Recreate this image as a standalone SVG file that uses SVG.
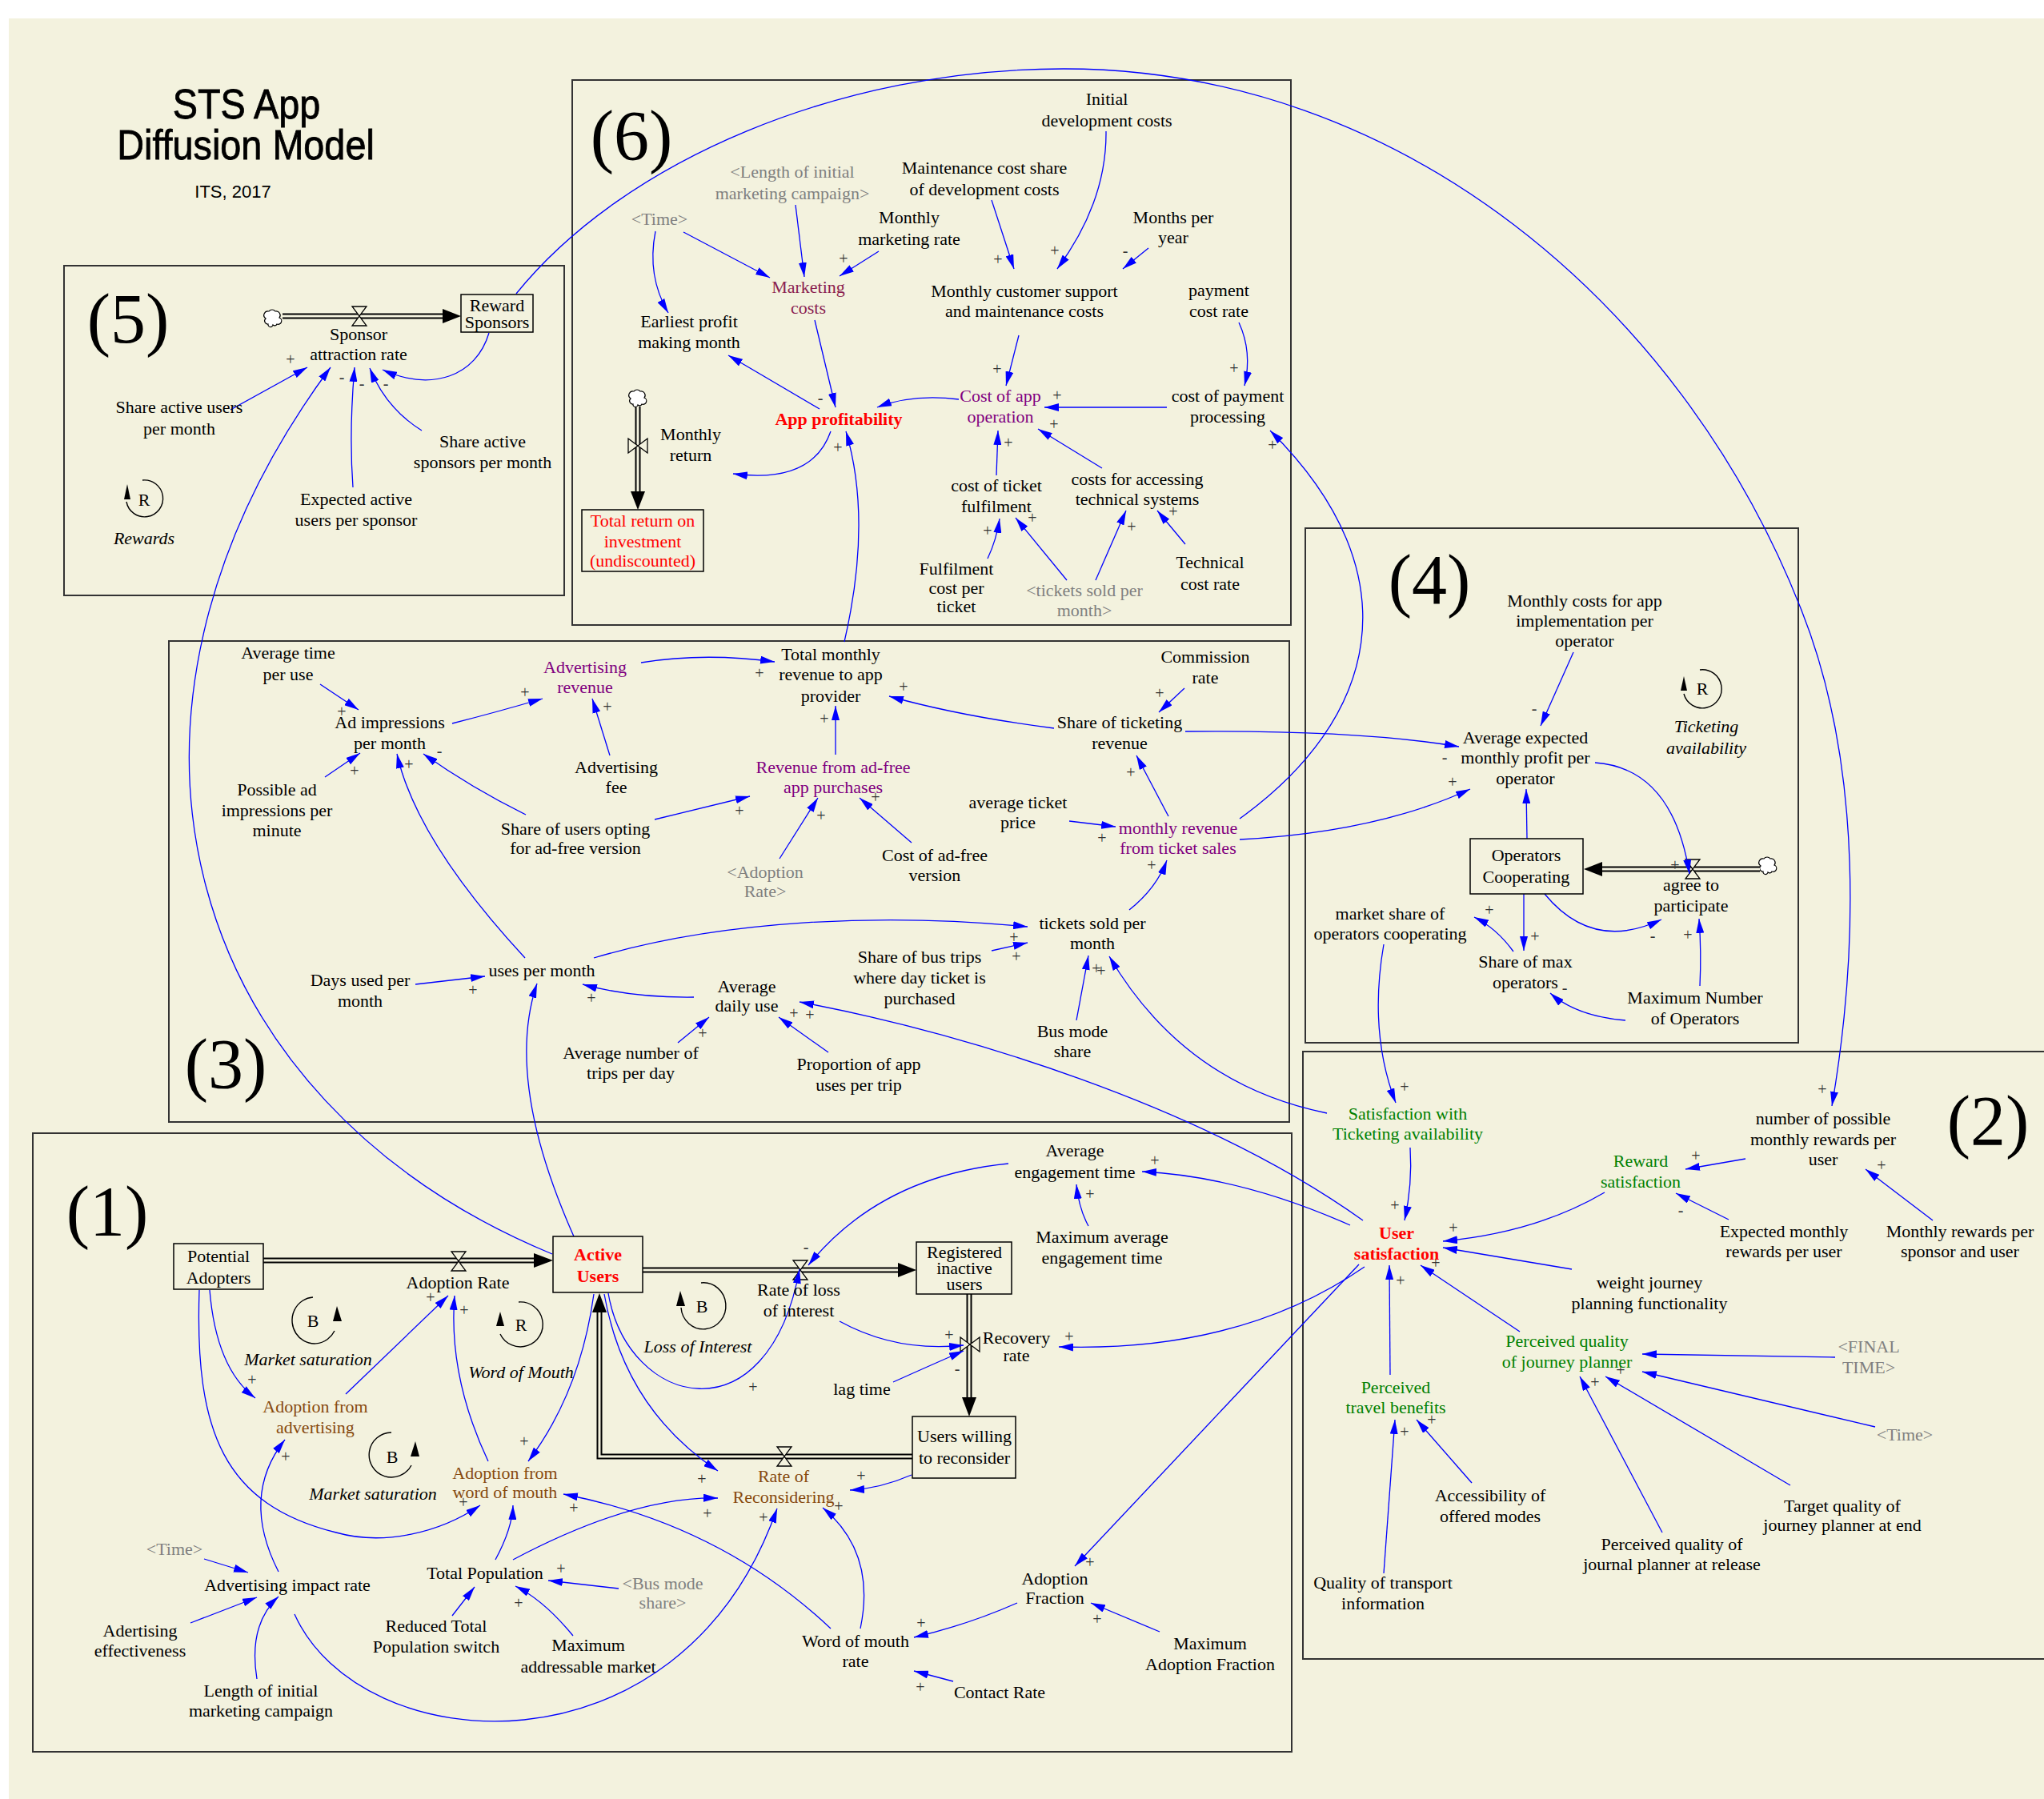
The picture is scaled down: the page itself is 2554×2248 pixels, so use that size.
<svg xmlns="http://www.w3.org/2000/svg" width="2554" height="2248" viewBox="0 0 2554 2248">
<defs>
<style>
.t{font-family:"Liberation Serif","Times New Roman",serif;font-size:22px;fill:#000;text-anchor:middle}
.gy{fill:#808080}
.rd{fill:#f00}
.b{font-weight:bold}
.pu{fill:#800080}
.mr{fill:#8b1e50}
.br{fill:#874a0f}
.gn{fill:#008000}
.it{font-style:italic}
.ti{font-family:"Liberation Sans",Arial,sans-serif;fill:#000;text-anchor:middle}
.n{font-family:"Liberation Serif","Times New Roman",serif;font-size:88px;fill:#000;text-anchor:middle}
.s{font-family:"Liberation Serif","Times New Roman",serif;font-size:20px;fill:#333;text-anchor:middle}
.lk{fill:none;stroke:#00f;stroke-width:1.3;marker-end:url(#ah)}
.fr{fill:none;stroke:#333;stroke-width:2}
.sb{fill:none;stroke:#000;stroke-width:1.5}
.po{fill:none;stroke:#000;stroke-width:7}
.pi{fill:none;stroke:#f3f2de;stroke-width:3}
.fa{fill:#000}
.lp{fill:none;stroke:#000;stroke-width:1.4}
.vl{fill:#f3f2de;stroke:#000;stroke-width:1.3}
.cl{fill:#fff;stroke:#000;stroke-width:1.2}
</style>
<marker id="ah" viewBox="0 0 18 10" refX="18" refY="5" markerWidth="18" markerHeight="10" markerUnits="userSpaceOnUse" orient="auto"><path d="M0,0L18,5L0,10z" fill="#00f"/></marker>
<path id="vh" class="vl" d="M-9,-12H9L-9,12H9Z"/>
<path id="vv" class="vl" d="M-12,-9V9L12,-9V9Z"/>
<path id="cloud" class="cl" d="M-7,8a4,4 0 0 1 -3,-7a5,5 0 0 1 4,-9a5,5 0 0 1 8,0a5,5 0 0 1 5,8a4,4 0 0 1 -3,8a3,3 0 0 1 -5,1a3,3 0 0 1 -6,-1z"/>
</defs>
<rect x="0" y="0" width="2554" height="2248" fill="#fff"/>
<rect x="11" y="23" width="2543" height="2225" fill="#f3f2de"/>

<g id="title">
<text class="ti" transform="translate(308,148) scale(0.9,1)" font-size="52" stroke="#000" stroke-width="0.8">STS App</text>
<text class="ti" transform="translate(307,199) scale(0.9,1)" font-size="52" stroke="#000" stroke-width="0.8">Diffusion Model</text>
<text class="ti" x="291" y="247" font-size="22">ITS, 2017</text>
</g>

<g id="frames">
<rect class="fr" x="715" y="100" width="898" height="681"/>
<rect class="fr" x="80" y="332" width="625" height="412"/>
<rect class="fr" x="211" y="801" width="1400" height="601"/>
<rect class="fr" x="41" y="1416" width="1573" height="773"/>
<rect class="fr" x="1631" y="660" width="616" height="643"/>
<rect class="fr" x="1628" y="1314" width="1000" height="759"/>
<text class="n" x="789" y="199">(6)</text>
<text class="n" x="160" y="428">(5)</text>
<text class="n" x="1786" y="754">(4)</text>
<text class="n" x="282" y="1359">(3)</text>
<text class="n" x="134" y="1543">(1)</text>
<text class="n" x="2484" y="1430">(2)</text>
</g>

<g id="flows">
<use href="#cloud" x="342" y="397"/>
<path class="po" d="M353,395H553"/><path class="pi" d="M353,395H553"/>
<polygon class="fa" points="553,386 576,395 553,404"/>
<use href="#vh" x="449" y="395"/>

<use href="#cloud" x="798" y="497"/>
<path class="po" d="M797,508V614"/><path class="pi" d="M797,508V614"/>
<polygon class="fa" points="788,614 797,637 806,614"/>
<use href="#vv" x="797" y="557"/>

<use href="#cloud" x="2210" y="1081"/>
<path class="po" d="M2199,1086H2002"/><path class="pi" d="M2199,1086H2002"/>
<polygon class="fa" points="2002,1077 1979,1086 2002,1095"/>
<use href="#vh" x="2115" y="1086"/>

<path class="po" d="M329,1575H667"/><path class="pi" d="M329,1575H667"/>
<polygon class="fa" points="667,1566 691,1575 667,1584"/>
<use href="#vh" x="573" y="1576"/>

<path class="po" d="M803,1587H1122"/><path class="pi" d="M803,1587H1122"/>
<polygon class="fa" points="1122,1578 1145,1587 1122,1596"/>
<use href="#vh" x="1000" y="1587"/>

<path class="po" d="M1211,1617V1746"/><path class="pi" d="M1211,1617V1746"/>
<polygon class="fa" points="1202,1746 1211,1770 1220,1746"/>
<use href="#vv" x="1212" y="1680"/>

<path class="po" d="M1140,1820H749V1640"/><path class="pi" d="M1140,1820H749V1640"/>
<polygon class="fa" points="740,1640 749,1616 758,1640"/>
<use href="#vh" x="980" y="1820"/>
</g>

<g id="loops">
<path class="lp" d="M178,600A23,23 0 1 1 158,627"/><polygon class="fa" points="159,605 155,624 163,624"/>
<text class="t" x="180" y="632">R</text>
<text class="t it" x="180" y="680">Rewards</text>
<path class="lp" d="M2124,837A24,24 0 1 1 2104,867"/><polygon class="fa" points="2104,845 2100,863 2108,863"/>
<text class="t" x="2127" y="868">R</text>
<text class="t it" x="2132" y="915">Ticketing</text>
<text class="t it" x="2132" y="942">availability</text>
<path class="lp" d="M391,1621A28,29 0 1 0 418,1663"/><polygon class="fa" points="421,1632 416,1651 427,1651"/>
<text class="t" x="391" y="1658">B</text>
<text class="t it" x="385" y="1706">Market saturation</text>
<path class="lp" d="M648,1627A28,28 0 1 1 625,1667"/><polygon class="fa" points="625,1639 620,1657 630,1657"/>
<text class="t" x="651" y="1663">R</text>
<text class="t it" x="651" y="1722">Word of Mouth</text>
<path class="lp" d="M876,1603A28,29 0 1 1 851,1634"/><polygon class="fa" points="850,1613 845,1632 856,1632"/>
<text class="t" x="877" y="1640">B</text>
<text class="t it" x="872" y="1690">Loss of Interest</text>
<path class="lp" d="M489,1790A28,28 0 1 0 514,1831"/><polygon class="fa" points="519,1801 513,1820 524,1820"/>
<text class="t" x="490" y="1828">B</text>
<text class="t it" x="466" y="1874">Market saturation</text>
</g>

<g id="connectors">
<path class="lk" d="M288,512L384,459"/>
<path class="lk" d="M441,609Q436,540 443,459"/>
<path class="lk" d="M690,1567C230,1377 88,899 413,459"/>
<path class="lk" d="M527,538Q482,510 462,460"/>
<path class="lk" d="M611,416C595,470 540,490 478,462"/>
<path class="lk" d="M645,367C780,200 1050,86 1329,86C1750,86 2100,380 2250,760C2330,960 2320,1200 2289,1382"/>

<path class="lk" d="M854,290L962,347"/>
<path class="lk" d="M819,289Q808,345 835,391"/>
<path class="lk" d="M994,256L1005,346"/>
<path class="lk" d="M1098,314L1049,345"/>
<path class="lk" d="M1239,250L1267,336"/>
<path class="lk" d="M1382,164Q1383,252 1321,336"/>
<path class="lk" d="M1435,310L1403,336"/>
<path class="lk" d="M1018,400L1044,509"/>
<path class="lk" d="M1024,511L910,444"/>
<path class="lk" d="M1273,419L1257,482"/>
<path class="lk" d="M1548,403Q1565,440 1555,482"/>
<path class="lk" d="M1198,499Q1140,492 1096,509"/>
<path class="lk" d="M1458,509L1305,509"/>
<path class="lk" d="M1245,594L1247,538"/>
<path class="lk" d="M1377,585L1297,536"/>
<path class="lk" d="M1234,698Q1245,675 1249,648"/>
<path class="lk" d="M1333,725L1269,647"/>
<path class="lk" d="M1369,725L1407,638"/>
<path class="lk" d="M1481,680L1446,638"/>
<path class="lk" d="M1038,539Q1015,605 916,592"/>
<path class="lk" d="M1055,802Q1090,650 1057,539"/>
<path class="lk" d="M1549,1023C1720,900 1770,720 1587,538"/>

<path class="lk" d="M400,855L448,887"/>
<path class="lk" d="M406,971L450,941"/>
<path class="lk" d="M565,904Q620,890 678,873"/>
<path class="lk" d="M762,944L740,873"/>
<path class="lk" d="M657,1018Q590,985 529,942"/>
<path class="lk" d="M818,1024L937,995"/>
<path class="lk" d="M656,1197Q520,1050 496,942"/>
<path class="lk" d="M801,828Q880,815 968,827"/>
<path class="lk" d="M1044,943L1044,882"/>
<path class="lk" d="M1317,910Q1200,895 1111,870"/>
<path class="lk" d="M1480,860L1448,890"/>
<path class="lk" d="M1460,1020L1420,944"/>
<path class="lk" d="M974,1073L1022,997"/>
<path class="lk" d="M1139,1053L1074,997"/>
<path class="lk" d="M1336,1026L1394,1033"/>
<path class="lk" d="M1481,914Q1700,912 1823,933"/>
<path class="lk" d="M1549,1049Q1720,1040 1837,986"/>
<path class="lk" d="M1411,1137Q1445,1110 1458,1075"/>
<path class="lk" d="M742,1197C900,1150 1100,1140 1284,1158"/>
<path class="lk" d="M1239,1188L1284,1178"/>
<path class="lk" d="M1345,1275L1360,1194"/>
<path class="lk" d="M1658,1391Q1480,1355 1386,1195"/>
<path class="lk" d="M867,1246Q790,1247 728,1230"/>
<path class="lk" d="M519,1230L606,1220"/>
<path class="lk" d="M717,1545Q630,1350 671,1229"/>
<path class="lk" d="M847,1303L886,1271"/>
<path class="lk" d="M1035,1315L973,1271"/>
<path class="lk" d="M1703,1525C1500,1380 1200,1290 999,1252"/>

<path class="lk" d="M1966,815L1925,907"/>
<path class="lk" d="M1908,1048L1907,986"/>
<path class="lk" d="M1993,953Q2090,960 2111,1092"/>
<path class="lk" d="M1930,1117Q1990,1190 2076,1149"/>
<path class="lk" d="M2124,1232Q2126,1190 2123,1148"/>
<path class="lk" d="M1904,1117L1904,1188"/>
<path class="lk" d="M1891,1189Q1870,1160 1842,1146"/>
<path class="lk" d="M2031,1275Q1970,1270 1937,1241"/>
<path class="lk" d="M1729,1180Q1710,1290 1744,1378"/>

<path class="lk" d="M1762,1434Q1765,1480 1755,1525"/>
<path class="lk" d="M2181,1448L2106,1461"/>
<path class="lk" d="M2415,1525L2331,1461"/>
<path class="lk" d="M2160,1524L2094,1491"/>
<path class="lk" d="M2005,1490Q1920,1540 1803,1551"/>
<path class="lk" d="M1964,1586L1803,1559"/>
<path class="lk" d="M1899,1664L1775,1581"/>
<path class="lk" d="M1737,1718L1736,1581"/>
<path class="lk" d="M2293,1696L2052,1692"/>
<path class="lk" d="M2343,1783L2052,1714"/>
<path class="lk" d="M2237,1856L2006,1720"/>
<path class="lk" d="M2077,1915L1974,1720"/>
<path class="lk" d="M1839,1853L1770,1774"/>
<path class="lk" d="M1729,1966L1743,1774"/>
<path class="lk" d="M1687,1531Q1550,1470 1427,1464"/>
<path class="lk" d="M1705,1583Q1550,1690 1323,1683"/>
<path class="lk" d="M1698,1580L1343,1957"/>

<path class="lk" d="M262,1612Q270,1710 319,1747"/>
<path class="lk" d="M249,1612C243,1790 280,1880 420,1915C480,1932 550,1915 600,1881"/>
<path class="lk" d="M432,1742L560,1619"/>
<path class="lk" d="M610,1826Q560,1720 568,1619"/>
<path class="lk" d="M742,1617Q725,1740 660,1826"/>
<path class="lk" d="M348,1964Q300,1870 356,1799"/>
<path class="lk" d="M368,2017C450,2200 850,2230 971,1885"/>
<path class="lk" d="M255,1948L310,1965"/>
<path class="lk" d="M238,2028L321,1996"/>
<path class="lk" d="M321,2098Q310,2030 348,1995"/>
<path class="lk" d="M619,1949Q640,1910 641,1881"/>
<path class="lk" d="M641,1949Q790,1870 897,1872"/>
<path class="lk" d="M565,2019L593,1983"/>
<path class="lk" d="M716,2044Q680,2000 644,1982"/>
<path class="lk" d="M773,1985L685,1975"/>
<path class="lk" d="M1038,2035Q900,1905 704,1867"/>
<path class="lk" d="M1075,2035Q1095,1940 1028,1884"/>
<path class="lk" d="M1139,1843Q1100,1860 1062,1862"/>
<path class="lk" d="M755,1617Q780,1760 897,1838"/>
<path class="lk" d="M1271,2003Q1210,2030 1142,2046"/>
<path class="lk" d="M1449,2039L1363,2003"/>
<path class="lk" d="M1191,2101L1142,2088"/>
<path class="lk" d="M1260,1454Q1100,1470 1010,1581"/>
<path class="lk" d="M1360,1532Q1348,1510 1345,1480"/>
<path class="lk" d="M1049,1651Q1120,1690 1204,1681"/>
<path class="lk" d="M1116,1727Q1165,1705 1204,1688"/>
<path class="lk" d="M760,1616C785,1760 960,1800 999,1586"/>

<g id="polarity">
<text class="s" x="363" y="456">+</text><text class="s" x="427" y="478">-</text><text class="s" x="452" y="486">-</text><text class="s" x="482" y="486">-</text>
<text class="s" x="1054" y="330">+</text><text class="s" x="1247" y="331">+</text><text class="s" x="1318" y="320">+</text><text class="s" x="1406" y="320">-</text>
<text class="s" x="1025" y="504">-</text><text class="s" x="1246" y="468">+</text><text class="s" x="1542" y="467">+</text><text class="s" x="1321" y="501">+</text>
<text class="s" x="1260" y="560">+</text><text class="s" x="1317" y="537">+</text><text class="s" x="1234" y="670">+</text><text class="s" x="1290" y="654">+</text>
<text class="s" x="1414" y="665">+</text><text class="s" x="1466" y="646">+</text><text class="s" x="1047" y="566">+</text><text class="s" x="1590" y="563">+</text>
<text class="s" x="427" y="896">+</text><text class="s" x="443" y="970">+</text><text class="s" x="656" y="872">+</text><text class="s" x="759" y="890">+</text>
<text class="s" x="549" y="945">-</text><text class="s" x="924" y="1020">+</text><text class="s" x="511" y="962">+</text><text class="s" x="949" y="848">+</text>
<text class="s" x="1030" y="905">+</text><text class="s" x="1129" y="865">+</text><text class="s" x="1449" y="873">+</text><text class="s" x="1413" y="972">+</text>
<text class="s" x="1026" y="1026">+</text><text class="s" x="1094" y="1003">+</text><text class="s" x="1377" y="1054">+</text><text class="s" x="1805" y="953">-</text>
<text class="s" x="1815" y="984">+</text><text class="s" x="1439" y="1088">+</text><text class="s" x="1267" y="1178">+</text><text class="s" x="1270" y="1202">+</text>
<text class="s" x="1370" y="1217">+</text><text class="s" x="1376" y="1220">+</text><text class="s" x="739" y="1254">+</text><text class="s" x="591" y="1244">+</text>
<text class="s" x="878" y="1298">+</text><text class="s" x="992" y="1273">+</text><text class="s" x="1012" y="1275">+</text>
<text class="s" x="1917" y="892">-</text><text class="s" x="2093" y="1088">+</text><text class="s" x="2065" y="1176">-</text><text class="s" x="2109" y="1175">+</text>
<text class="s" x="1918" y="1177">+</text><text class="s" x="1861" y="1144">+</text><text class="s" x="1955" y="1241">-</text><text class="s" x="1755" y="1365">+</text>
<text class="s" x="1743" y="1513">+</text><text class="s" x="2119" y="1451">+</text><text class="s" x="2351" y="1463">+</text><text class="s" x="2100" y="1519">-</text>
<text class="s" x="1816" y="1541">+</text><text class="s" x="1794" y="1585">+</text><text class="s" x="1750" y="1607">+</text><text class="s" x="2025" y="1719">+</text>
<text class="s" x="1993" y="1734">+</text><text class="s" x="1789" y="1781">+</text><text class="s" x="1755" y="1796">+</text><text class="s" x="2277" y="1368">+</text>
<text class="s" x="1443" y="1457">+</text><text class="s" x="1336" y="1677">+</text><text class="s" x="1362" y="1959">+</text>
<text class="s" x="315" y="1731">+</text><text class="s" x="579" y="1884">+</text><text class="s" x="538" y="1628">+</text><text class="s" x="580" y="1644">+</text>
<text class="s" x="655" y="1808">+</text><text class="s" x="357" y="1827">+</text><text class="s" x="954" y="1903">+</text><text class="s" x="648" y="2010">+</text>
<text class="s" x="701" y="1967">+</text><text class="s" x="717" y="1891">+</text><text class="s" x="1048" y="1889">+</text><text class="s" x="1076" y="1851">+</text>
<text class="s" x="877" y="1855">+</text><text class="s" x="884" y="1898">+</text><text class="s" x="1151" y="2035">+</text><text class="s" x="1371" y="2030">+</text>
<text class="s" x="1150" y="2115">+</text><text class="s" x="1007" y="1565">-</text><text class="s" x="1362" y="1499">+</text><text class="s" x="1186" y="1675">+</text>
<text class="s" x="1196" y="1717">-</text><text class="s" x="941" y="1740">+</text>
</g>
</g>

<g id="n_sponsor_attraction_rate"><text class="t" x="448" y="425">Sponsor<tspan x="448" y="450">attraction rate</tspan></text></g>
<g id="n_reward_sponsors"><rect class="sb" x="576" y="368" width="90" height="47"/><text class="t" x="621" y="389">Reward<tspan x="621" y="410">Sponsors</tspan></text></g>
<g id="n_share_active_users"><text class="t" x="224" y="516">Share active users<tspan x="224" y="543">per month</tspan></text></g>
<g id="n_share_active_sponsors"><text class="t" x="603" y="559">Share active<tspan x="603" y="585">sponsors per month</tspan></text></g>
<g id="n_expected_active_users"><text class="t" x="445" y="631">Expected active<tspan x="445" y="657">users per sponsor</tspan></text></g>

<g id="n_time6"><text class="t gy" x="824" y="281">&lt;Time&gt;</text></g>
<g id="n_earliest_profit"><text class="t" x="861" y="409">Earliest profit<tspan x="861" y="435">making month</tspan></text></g>
<g id="n_length6"><text class="t gy" x="990" y="222">&lt;Length of initial<tspan x="990" y="249">marketing campaign&gt;</tspan></text></g>
<g id="n_monthly_marketing_rate"><text class="t" x="1136" y="279">Monthly<tspan x="1136" y="306">marketing rate</tspan></text></g>
<g id="n_marketing_costs"><text class="t mr" x="1010" y="366">Marketing<tspan x="1010" y="392">costs</tspan></text></g>
<g id="n_maintenance_share"><text class="t" x="1230" y="217">Maintenance cost share<tspan x="1230" y="244">of development costs</tspan></text></g>
<g id="n_initial_dev"><text class="t" x="1383" y="131">Initial<tspan x="1383" y="158">development costs</tspan></text></g>
<g id="n_months_per_year"><text class="t" x="1466" y="279">Months per<tspan x="1466" y="304">year</tspan></text></g>
<g id="n_monthly_customer_support"><text class="t" x="1280" y="371">Monthly customer support<tspan x="1280" y="396">and maintenance costs</tspan></text></g>
<g id="n_payment_cost_rate"><text class="t" x="1523" y="370">payment<tspan x="1523" y="396">cost rate</tspan></text></g>
<g id="n_cost_app_operation"><text class="t pu" x="1250" y="502">Cost of app<tspan x="1250" y="528">operation</tspan></text></g>
<g id="n_cost_payment_processing"><text class="t" x="1534" y="502">cost of payment<tspan x="1534" y="528">processing</tspan></text></g>
<g id="n_app_profitability"><text class="t rd b" x="1048" y="531">App profitability</text></g>
<g id="n_monthly_return"><text class="t" x="863" y="550">Monthly<tspan x="863" y="576">return</tspan></text></g>
<g id="n_total_return"><rect class="sb" x="727" y="637" width="152" height="77"/><text class="t rd" x="803" y="658">Total return on<tspan x="803" y="684">investment</tspan><tspan x="803" y="708">(undiscounted)</tspan></text></g>
<g id="n_cost_ticket_fulfilment"><text class="t" x="1245" y="614">cost of ticket<tspan x="1245" y="640">fulfilment</tspan></text></g>
<g id="n_costs_accessing"><text class="t" x="1421" y="606">costs for accessing<tspan x="1421" y="631">technical systems</tspan></text></g>
<g id="n_fulfilment_cost"><text class="t" x="1195" y="718">Fulfilment<tspan x="1195" y="742">cost per</tspan><tspan x="1195" y="765">ticket</tspan></text></g>
<g id="n_tickets_sold_shadow"><text class="t gy" x="1355" y="745">&lt;tickets sold per<tspan x="1355" y="770">month&gt;</tspan></text></g>
<g id="n_technical_cost_rate"><text class="t" x="1512" y="710">Technical<tspan x="1512" y="737">cost rate</tspan></text></g>

<g id="n_avg_time_per_use"><text class="t" x="360" y="823">Average time<tspan x="360" y="850">per use</tspan></text></g>
<g id="n_ad_impressions"><text class="t" x="487" y="910">Ad impressions<tspan x="487" y="936">per month</tspan></text></g>
<g id="n_advertising_revenue"><text class="t pu" x="731" y="841">Advertising<tspan x="731" y="866">revenue</tspan></text></g>
<g id="n_possible_ad"><text class="t" x="346" y="994">Possible ad<tspan x="346" y="1020">impressions per</tspan><tspan x="346" y="1045">minute</tspan></text></g>
<g id="n_advertising_fee"><text class="t" x="770" y="966">Advertising<tspan x="770" y="991">fee</tspan></text></g>
<g id="n_share_opting"><text class="t" x="719" y="1043">Share of users opting<tspan x="719" y="1067">for ad-free version</tspan></text></g>
<g id="n_total_monthly_revenue"><text class="t" x="1038" y="825">Total monthly<tspan x="1038" y="850">revenue to app</tspan><tspan x="1038" y="877">provider</tspan></text></g>
<g id="n_commission_rate"><text class="t" x="1506" y="828">Commission<tspan x="1506" y="854">rate</tspan></text></g>
<g id="n_share_ticketing"><text class="t" x="1399" y="910">Share of ticketing<tspan x="1399" y="936">revenue</tspan></text></g>
<g id="n_revenue_adfree"><text class="t pu" x="1041" y="966">Revenue from ad-free<tspan x="1041" y="991">app purchases</tspan></text></g>
<g id="n_adoption_rate_shadow"><text class="t gy" x="956" y="1097">&lt;Adoption<tspan x="956" y="1121">Rate&gt;</tspan></text></g>
<g id="n_cost_adfree"><text class="t" x="1168" y="1076">Cost of ad-free<tspan x="1168" y="1101">version</tspan></text></g>
<g id="n_avg_ticket_price"><text class="t" x="1272" y="1010">average ticket<tspan x="1272" y="1035">price</tspan></text></g>
<g id="n_monthly_revenue_ticket"><text class="t pu" x="1472" y="1042">monthly revenue<tspan x="1472" y="1067">from ticket sales</tspan></text></g>
<g id="n_tickets_sold"><text class="t" x="1365" y="1161">tickets sold per<tspan x="1365" y="1186">month</tspan></text></g>
<g id="n_share_bus_trips"><text class="t" x="1149" y="1203">Share of bus trips<tspan x="1149" y="1229">where day ticket is</tspan><tspan x="1149" y="1255">purchased</tspan></text></g>
<g id="n_avg_daily_use"><text class="t" x="933" y="1240">Average<tspan x="933" y="1264">daily use</tspan></text></g>
<g id="n_bus_mode_share"><text class="t" x="1340" y="1296">Bus mode<tspan x="1340" y="1321">share</tspan></text></g>
<g id="n_proportion_app_uses"><text class="t" x="1073" y="1337">Proportion of app<tspan x="1073" y="1363">uses per trip</tspan></text></g>
<g id="n_uses_per_month"><text class="t" x="677" y="1220">uses per month</text></g>
<g id="n_days_used"><text class="t" x="450" y="1232">Days used per<tspan x="450" y="1258">month</tspan></text></g>
<g id="n_avg_trips"><text class="t" x="788" y="1323">Average number of<tspan x="788" y="1348">trips per day</tspan></text></g>

<g id="n_monthly_costs_impl"><text class="t" x="1980" y="758">Monthly costs for app<tspan x="1980" y="783">implementation per</tspan><tspan x="1980" y="808">operator</tspan></text></g>
<g id="n_avg_expected_profit"><text class="t" x="1906" y="929">Average expected<tspan x="1906" y="954">monthly profit per</tspan><tspan x="1906" y="980">operator</tspan></text></g>
<g id="n_operators_cooperating"><rect class="sb" x="1837" y="1048" width="141" height="69"/><text class="t" x="1907" y="1076">Operators<tspan x="1907" y="1103">Cooperating</tspan></text></g>
<g id="n_agree"><text class="t" x="2113" y="1113">agree to<tspan x="2113" y="1139">participate</tspan></text></g>
<g id="n_market_share"><text class="t" x="1737" y="1149">market share of<tspan x="1737" y="1174">operators cooperating</tspan></text></g>
<g id="n_share_max_operators"><text class="t" x="1906" y="1209">Share of max<tspan x="1906" y="1235">operators</tspan></text></g>
<g id="n_max_number_operators"><text class="t" x="2118" y="1254">Maximum Number<tspan x="2118" y="1280">of Operators</tspan></text></g>

<g id="n_satisfaction_ticketing"><text class="t gn" x="1759" y="1399">Satisfaction with<tspan x="1759" y="1424">Ticketing availability</tspan></text></g>
<g id="n_user_satisfaction"><text class="t rd b" x="1745" y="1548">User<tspan x="1745" y="1574">satisfaction</tspan></text></g>
<g id="n_number_possible_rewards"><text class="t" x="2278" y="1405">number of possible<tspan x="2278" y="1431">monthly rewards per</tspan><tspan x="2278" y="1456">user</tspan></text></g>
<g id="n_reward_satisfaction"><text class="t gn" x="2050" y="1458">Reward<tspan x="2050" y="1484">satisfaction</tspan></text></g>
<g id="n_expected_rewards"><text class="t" x="2229" y="1546">Expected monthly<tspan x="2229" y="1571">rewards per user</tspan></text></g>
<g id="n_monthly_rewards_sponsor"><text class="t" x="2449" y="1546">Monthly rewards per<tspan x="2449" y="1571">sponsor and user</tspan></text></g>
<g id="n_weight_journey"><text class="t" x="2061" y="1610">weight journey<tspan x="2061" y="1636">planning functionality</tspan></text></g>
<g id="n_pq_journey_planner"><text class="t gn" x="1958" y="1683">Perceived quality<tspan x="1958" y="1709">of journey planner</tspan></text></g>
<g id="n_final_time"><text class="t gy" x="2335" y="1690">&lt;FINAL<tspan x="2335" y="1716">TIME&gt;</tspan></text></g>
<g id="n_time2"><text class="t gy" x="2380" y="1800">&lt;Time&gt;</text></g>
<g id="n_perceived_travel_benefits"><text class="t gn" x="1744" y="1741">Perceived<tspan x="1744" y="1766">travel benefits</tspan></text></g>
<g id="n_accessibility"><text class="t" x="1862" y="1876">Accessibility of<tspan x="1862" y="1902">offered modes</tspan></text></g>
<g id="n_quality_transport"><text class="t" x="1728" y="1985">Quality of transport<tspan x="1728" y="2011">information</tspan></text></g>
<g id="n_pq_release"><text class="t" x="2089" y="1937">Perceived quality of<tspan x="2089" y="1962">journal planner at release</tspan></text></g>
<g id="n_target_quality"><text class="t" x="2302" y="1889">Target quality of<tspan x="2302" y="1913">journey planner at end</tspan></text></g>

<g id="n_potential_adopters"><rect class="sb" x="217" y="1554" width="112" height="57"/><text class="t" x="273" y="1577">Potential<tspan x="273" y="1604">Adopters</tspan></text></g>
<g id="n_adoption_rate"><text class="t" x="572" y="1610">Adoption Rate</text></g>
<g id="n_active_users"><rect class="sb" x="691" y="1545" width="112" height="70"/><text class="t rd b" x="747" y="1575">Active<tspan x="747" y="1602">Users</tspan></text></g>
<g id="n_registered_inactive"><rect class="sb" x="1145" y="1552" width="119" height="65"/><text class="t" x="1205" y="1572">Registered<tspan x="1205" y="1592">inactive</tspan><tspan x="1205" y="1612">users</tspan></text></g>
<g id="n_rate_loss_interest"><text class="t" x="998" y="1619">Rate of loss<tspan x="998" y="1645">of interest</tspan></text></g>
<g id="n_recovery_rate"><text class="t" x="1270" y="1679">Recovery<tspan x="1270" y="1701">rate</tspan></text></g>
<g id="n_lag_time"><text class="t" x="1077" y="1743">lag time</text></g>
<g id="n_users_willing"><rect class="sb" x="1140" y="1770" width="129" height="77"/><text class="t" x="1205" y="1802">Users willing<tspan x="1205" y="1829">to reconsider</tspan></text></g>
<g id="n_rate_reconsidering"><text class="t br" x="979" y="1852">Rate of<tspan x="979" y="1878">Reconsidering</tspan></text></g>
<g id="n_adoption_advertising"><text class="t br" x="394" y="1765">Adoption from<tspan x="394" y="1791">advertising</tspan></text></g>
<g id="n_adoption_wom"><text class="t br" x="631" y="1848">Adoption from<tspan x="631" y="1872">word of mouth</tspan></text></g>
<g id="n_time1"><text class="t gy" x="218" y="1943">&lt;Time&gt;</text></g>
<g id="n_adv_impact_rate"><text class="t" x="359" y="1988">Advertising impact rate</text></g>
<g id="n_total_population"><text class="t" x="606" y="1973">Total Population</text></g>
<g id="n_bus_mode_shadow"><text class="t gy" x="828" y="1986">&lt;Bus mode<tspan x="828" y="2010">share&gt;</tspan></text></g>
<g id="n_adertising_eff"><text class="t" x="175" y="2045">Adertising<tspan x="175" y="2070">effectiveness</tspan></text></g>
<g id="n_length1"><text class="t" x="326" y="2120">Length of initial<tspan x="326" y="2145">marketing campaign</tspan></text></g>
<g id="n_reduced_total_pop"><text class="t" x="545" y="2039">Reduced Total<tspan x="545" y="2065">Population switch</tspan></text></g>
<g id="n_max_addressable"><text class="t" x="735" y="2063">Maximum<tspan x="735" y="2090">addressable market</tspan></text></g>
<g id="n_wom_rate"><text class="t" x="1069" y="2058">Word of mouth<tspan x="1069" y="2083">rate</tspan></text></g>
<g id="n_adoption_fraction"><text class="t" x="1318" y="1980">Adoption<tspan x="1318" y="2004">Fraction</tspan></text></g>
<g id="n_max_adoption_fraction"><text class="t" x="1512" y="2061">Maximum<tspan x="1512" y="2087">Adoption Fraction</tspan></text></g>
<g id="n_contact_rate"><text class="t" x="1249" y="2122">Contact Rate</text></g>
<g id="n_avg_engagement"><text class="t" x="1343" y="1445">Average<tspan x="1343" y="1472">engagement time</tspan></text></g>
<g id="n_max_avg_engagement"><text class="t" x="1377" y="1553">Maximum average<tspan x="1377" y="1579">engagement time</tspan></text></g>
</svg>
